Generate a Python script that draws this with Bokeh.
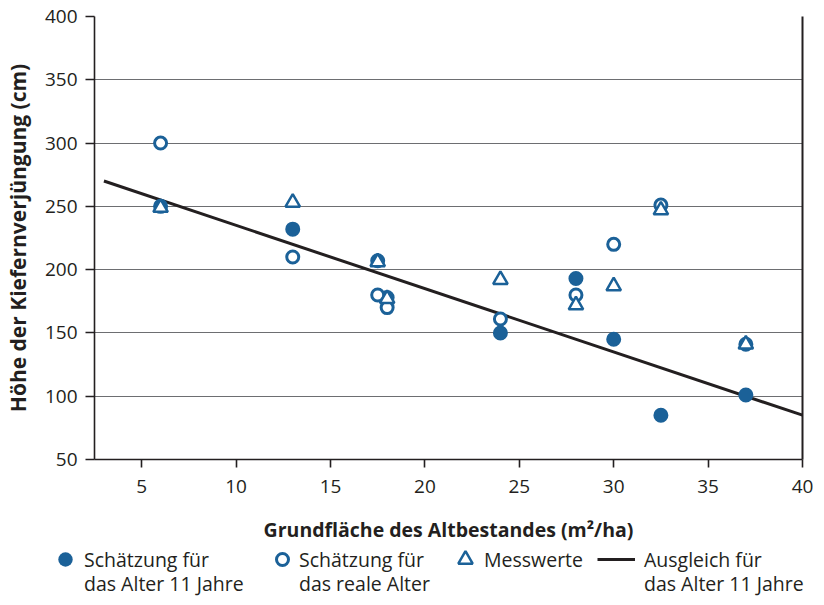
from bokeh.plotting import figure
from bokeh.layouts import column
from bokeh.models import Legend, LegendItem, LinearAxis, FixedTicker, Range1d
from bokeh.embed import file_html
from bokeh.resources import INLINE

# ---------------- data ----------------
basal_area = [6, 13, 17.5, 18, 24, 28, 30, 32.5, 37]          # m²/ha
est_age11 = [250, 232, 207, 178, 150, 193, 145, 85, 101]       # Schätzung für das Alter 11 Jahre
est_real_age = [300, 210, 180, 170, 161, 180, 220, 251, 141]   # Schätzung für das reale Alter
measured = [249, 253, 206, 177, 192, 172, 187, 247, 141]       # Messwerte
fit_x = [3, 40]
fit_y = [270, 85]                                              # Ausgleich für das Alter 11 Jahre
x_ticks = [5, 10, 15, 20, 25, 30, 35, 40]
y_ticks = [50, 100, 150, 200, 250, 300, 350, 400]
legend_line1 = ["Schätzung für", "Schätzung für", "Messwerte", "Ausgleich für"]
legend_line2 = ["das Alter 11 Jahre", "das reale Alter", "", "das Alter 11 Jahre"]
x_label = "Grundfläche des Altbestandes (m²/ha)"
y_label = "Höhe der Kiefernverjüngung (cm)"

# ---------------- style ----------------
BLUE = "#1b6198"
INK = "#231f20"
GRID = "#6d6e71"
FONT = "Open Sans"

FILLED = dict(marker="circle", size=15, fill_color=BLUE, line_color=None)
OPEN = dict(marker="circle", size=12, fill_color="white", line_color=BLUE, line_width=3)
TRI = dict(marker="triangle", size=14.5, fill_color="white", line_color=BLUE, line_width=2.5)
FIT = dict(line_width=3, line_color=INK)

p = figure(
    frame_width=708, frame_height=443,
    x_range=Range1d(2.5, 40), y_range=Range1d(50, 400),
    output_backend="svg", toolbar_location=None,
    min_border_left=89, min_border_top=16, min_border_right=11, min_border_bottom=84,
    outline_line_color=None, background_fill_color="white", border_fill_color="white",
)
p.frame_align = False

p.xgrid.visible = False
p.ygrid.ticker = FixedTicker(ticks=y_ticks)
p.ygrid.grid_line_color = GRID
p.ygrid.grid_line_width = 1.2

for ax in (p.xaxis[0], p.yaxis[0]):
    ax.axis_line_color = INK
    ax.axis_line_width = 1.6
    ax.major_tick_line_color = INK
    ax.major_tick_line_width = 1.6
    ax.major_tick_in = 0
    ax.minor_tick_line_color = None
    ax.major_label_text_font = FONT
    ax.major_label_text_font_size = "19px"
    ax.major_label_text_color = INK
    ax.axis_label_text_font = FONT
    ax.axis_label_text_font_style = "bold"
    ax.axis_label_text_color = INK

p.xaxis[0].ticker = FixedTicker(ticks=x_ticks)
p.xaxis[0].major_tick_out = 8
p.xaxis[0].major_label_standoff = 12
p.xaxis[0].axis_label = x_label
p.xaxis[0].axis_label_text_font_size = "19.5px"
p.xaxis[0].axis_label_standoff = 20

p.yaxis[0].ticker = FixedTicker(ticks=y_ticks)
p.yaxis[0].major_tick_out = 9
p.yaxis[0].major_label_standoff = 8
p.yaxis[0].axis_label = y_label
p.yaxis[0].axis_label_text_font_size = "21px"
p.yaxis[0].axis_label_standoff = 10

right = LinearAxis(
    ticker=FixedTicker(ticks=[]), axis_line_color=INK, axis_line_width=2,
    major_tick_line_color=None, minor_tick_line_color=None,
    major_label_text_font_size="0px",
)
p.add_layout(right, "right")

p.line(fit_x, fit_y, **FIT)
p.scatter(basal_area, est_age11, **FILLED)
p.scatter(basal_area, est_real_age, **OPEN)
p.scatter(basal_area, measured, **TRI)

# ---------------- legend strip below the chart ----------------
# Its renderers carry the same series, but its ranges keep them out of view:
# only their legend keys are shown.
LG_H = 54
lg = figure(
    width=808, height=LG_H, x_range=Range1d(-2, -1), y_range=Range1d(-2, -1),
    x_axis_type=None, y_axis_type=None,
    output_backend="svg", toolbar_location=None,
    min_border=0, min_border_left=0, min_border_right=0,
    min_border_top=0, min_border_bottom=0,
    outline_line_color=None,
    background_fill_color="white", border_fill_color="white",
)
lg.frame_align = False
lg.xgrid.visible = False
lg.ygrid.visible = False
keys = [
    lg.scatter(basal_area, est_age11, **FILLED),
    lg.scatter(basal_area, est_real_age, **OPEN),
    lg.scatter(basal_area, measured, **TRI),
    lg.line(fit_x, fit_y, **FIT),
]
ghost = lg.scatter(basal_area, measured, marker="circle", size=1,
                   fill_alpha=0, line_alpha=0)

# key box left edge, key box width/height, label standoff (pixels)
key_left = [46, 267, 446, 597]
key_w = [38, 30, 38, 38]
key_h = [36, 30, 36, 36]
standoff = [-4, 2, -4, 9]
ROW1_C, ROW2_C = 14, 42   # vertical centres of the two text lines (from top)


def make_legend(label, rend, x, gw, gh, so, centre):
    item_h = max(gh, 19)
    return Legend(
        items=[LegendItem(label=label, renderers=[rend])],
        location=(x, LG_H - (centre + item_h / 2)), orientation="vertical",
        glyph_width=gw, glyph_height=gh, label_standoff=so,
        padding=0, margin=0, spacing=0,
        border_line_color=None, background_fill_alpha=0,
        label_text_font=FONT, label_text_font_size="19.5px",
        label_text_color=INK, label_text_line_height=1.0, label_height=19,
    )


for i in range(4):
    lg.add_layout(make_legend(legend_line1[i], keys[i], key_left[i],
                              key_w[i], key_h[i], standoff[i], ROW1_C))
    if legend_line2[i]:
        lg.add_layout(make_legend(legend_line2[i], ghost, key_left[i],
                                  key_w[i], 19, standoff[i], ROW2_C))

layout = column(p, lg, spacing=0)
open("out.html", "w").write(file_html(layout, INLINE))
